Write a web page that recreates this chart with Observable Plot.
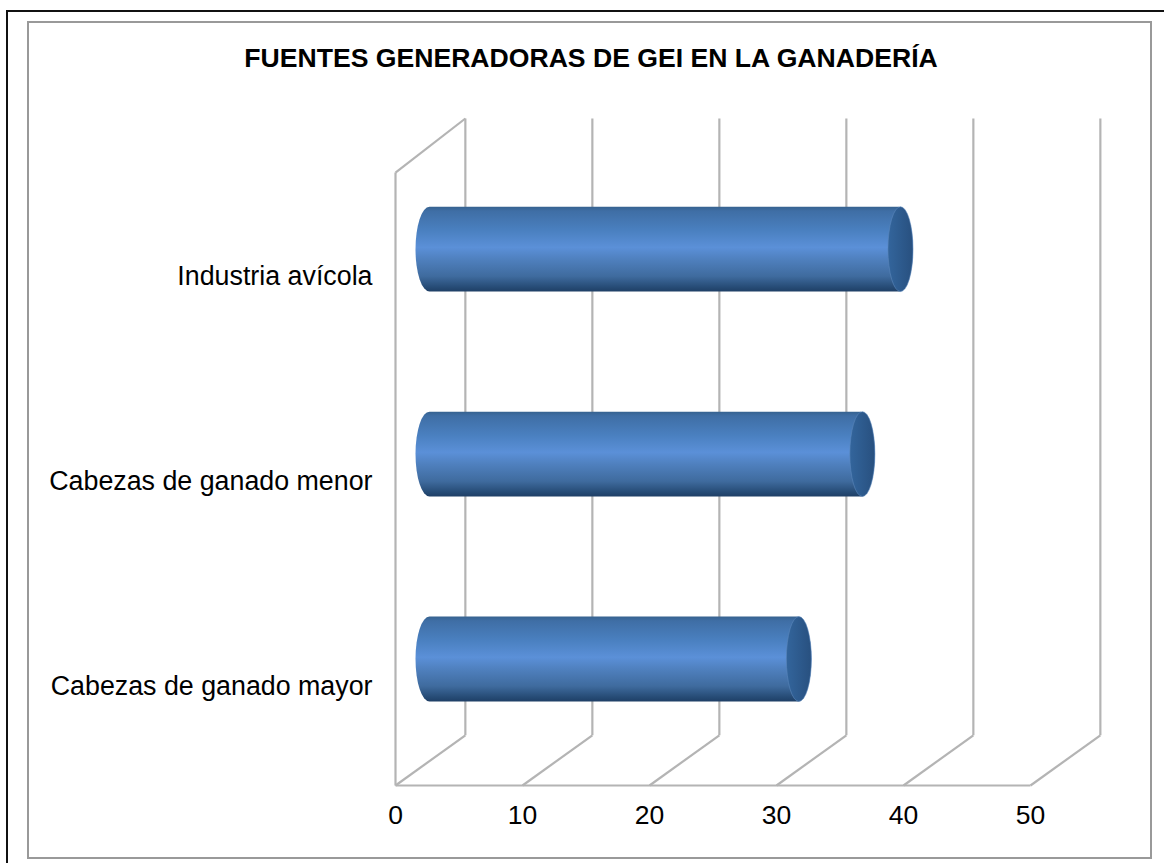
<!DOCTYPE html>
<html>
<head>
<meta charset="utf-8">
<script src="https://cdn.jsdelivr.net/npm/d3@7"></script>
<script src="https://cdn.jsdelivr.net/npm/@observablehq/plot@0.6"></script>
<style>
  html, body { margin: 0; padding: 0; background: #fff; }
  #page { position: relative; width: 1164px; height: 863px; overflow: hidden; font-family: "Liberation Sans", Arial, sans-serif; }
  #outer { position: absolute; left: 6px; top: 10px; width: 1164px; height: 870px; border: 2px solid #111; box-sizing: border-box; pointer-events: none; }
  #inner { position: absolute; left: 27px; top: 21px; width: 1125px; height: 838px; border: 2px solid #999; box-sizing: border-box; pointer-events: none; }
  #title { position: absolute; left: 0; width: 1182px; top: 43px; text-align: center; font-weight: bold; font-size: 26.6px; line-height: 30px; color: #000; white-space: nowrap; }
  #chart { position: absolute; left: 0; top: 0; }
</style>
</head>
<body>
<div id="page">
  <div id="outer"></div>
  <div id="inner"></div>
  <div id="title">FUENTES GENERADORAS DE GEI EN LA GANADERÍA</div>
  <div id="chart"></div>
</div>
<script>
const categories = ["Cabezas de ganado mayor", "Cabezas de ganado menor", "Industria avícola"];
const values = [29.2, 34.2, 37.2];
const xTicks = [0, 10, 20, 30, 40, 50];

const wallShift = 5.5;     // back wall offset, x units
const barShift = 2.6;      // bars sit mid-depth, x units
const capHalf = 0.985;     // half width of the cylinder end, x units
const barHalf = 0.207;     // half height of the cylinder, category units
const floorFront = -0.615, floorBack = -0.37, wallBack = 2.64, wallFront = 2.376;

const rows = categories.map((name, i) => ({name, i, value: values[i]}));
const gridColor = "#b4b4b4";

const defs = () => {
  const ns = "http://www.w3.org/2000/svg";
  const d = document.createElementNS(ns, "defs");
  d.innerHTML = `
    <linearGradient id="cyl" x1="0" y1="0" x2="0" y2="1">
      <stop offset="0" stop-color="#36628f"/>
      <stop offset="0.05" stop-color="#3f6ea5"/>
      <stop offset="0.28" stop-color="#4a80c0"/>
      <stop offset="0.48" stop-color="#5b90d8"/>
      <stop offset="0.62" stop-color="#4f80be"/>
      <stop offset="0.82" stop-color="#3f6b9e"/>
      <stop offset="0.95" stop-color="#264b75"/>
      <stop offset="1" stop-color="#1f3f66"/>
    </linearGradient>
    <linearGradient id="cap" x1="0" y1="0" x2="1" y2="0">
      <stop offset="0" stop-color="#33659c"/>
      <stop offset="1" stop-color="#28507f"/>
    </linearGradient>`;
  return d;
};

const chart = Plot.plot({
  width: 1164,
  height: 863,
  marginLeft: 395,
  marginRight: 134,
  marginTop: 118,
  marginBottom: 78,
  style: {background: "transparent", fontFamily: "'Liberation Sans', Arial, sans-serif", color: "#000"},
  x: {domain: [0, 50], label: null},
  y: {domain: [floorFront, wallBack], label: null},
  marks: [
    defs,
    // back-wall verticals
    Plot.link(xTicks, {
      x1: d => d + wallShift, x2: d => d + wallShift,
      y1: () => floorBack, y2: () => wallBack,
      stroke: gridColor, strokeWidth: 2.2, clip: false
    }),
    // floor diagonals
    Plot.link(xTicks, {
      x1: d => d, x2: d => d + wallShift,
      y1: () => floorFront, y2: () => floorBack,
      stroke: gridColor, strokeWidth: 2.2, clip: false
    }),
    // front floor edge, left wall edge and top diagonal
    Plot.link([0], {x1: 0, x2: 50, y1: () => floorFront, y2: () => floorFront, stroke: gridColor, strokeWidth: 2.2}),
    Plot.link([0], {x1: 0, x2: 0, y1: () => floorFront, y2: () => wallFront, stroke: gridColor, strokeWidth: 2.2}),
    Plot.link([0], {x1: 0, x2: wallShift, y1: () => wallFront, y2: () => wallBack, stroke: gridColor, strokeWidth: 2.2}),
    // cylinder bodies
    Plot.rect(rows, {
      x1: () => barShift - capHalf,
      x2: d => d.value + barShift + capHalf,
      y1: d => d.i - barHalf,
      y2: d => d.i + barHalf,
      fill: "url(#cyl)",
      rx: 14, ry: 42.5
    }),
    // cylinder end caps
    Plot.rect(rows, {
      x1: d => d.value + barShift - capHalf,
      x2: d => d.value + barShift + capHalf,
      y1: d => d.i - barHalf,
      y2: d => d.i + barHalf,
      fill: "url(#cap)",
      stroke: "#5a86ba", strokeWidth: 0.6,
      rx: 12.5, ry: 42.5
    }),
    Plot.axisX({ticks: xTicks, tickSize: 0, tickPadding: 20, label: null, fill: "#000", fontSize: 26.5, tickFormat: d => d}),
    Plot.axisY({ticks: [0, 1, 2], tickSize: 0, tickPadding: 23, label: null, fill: "#000", fontSize: 26.8, dy: 26.5, tickFormat: i => categories[i]})
  ]
});
document.getElementById("chart").append(chart);
</script>
</body>
</html>
